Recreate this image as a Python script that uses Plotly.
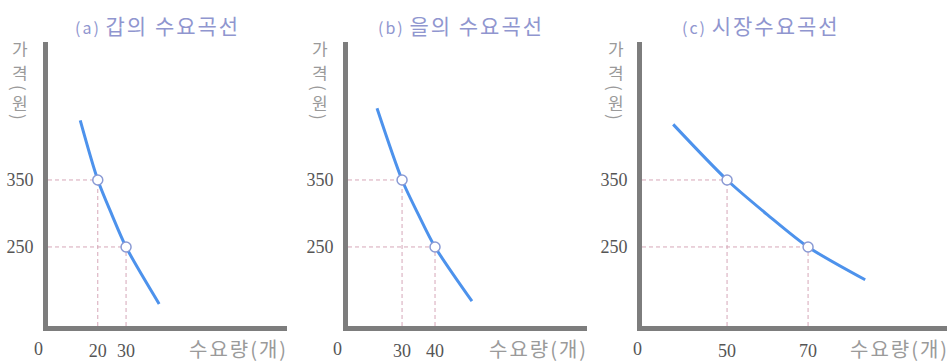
import plotly.graph_objects as go

# ---- data ----
titles = ["갑의 수요곡선", "을의 수요곡선", "시장수요곡선"]
title_tags = ["(a)", "(b)", "(c)"]
y_title_chars = ["가", "격", "(", "원", ")"]
x_title = "수요량(개)"

price_ticks = [250, 350]
qty_ticks_a = [20, 30]
qty_ticks_b = [30, 40]
qty_ticks_c = [50, 70]

# marked points (quantity, price)
pts_a_q = [20, 30]
pts_b_q = [30, 40]
pts_c_q = [50, 70]
pts_p = [350, 250]

# demand curves
curve_a_q = [13.8, 20, 25, 30, 41.7]
curve_a_p = [439, 350, 298, 250, 165]
curve_b_q = [22.4, 30, 35, 40, 51.2]
curve_b_p = [457, 350, 298, 250, 169]
curve_c_q = [36.7, 50, 60, 70, 84.1]
curve_c_p = [433, 350, 298, 250, 201]

W, H = 951, 362
x_ranges = [[2.4, 86.9], [13.6, 86.1], [29.0, 104.3]]
x_domains_px = [[48, 287], [348, 587], [642, 947]]
y_range = [132, 556]
y_dom = [1 - 326 / H, 1 - 42 / H]

curve_col = "#4d92ec"
axis_col = "#7d7d7d"
guide_col = "#d6a7b8"
tick_col = "#555555"
label_col = "#9a9a9a"
title_col = "#9096cf"

fig = go.Figure()

panels = [
    (curve_a_q, curve_a_p, pts_a_q, qty_ticks_a),
    (curve_b_q, curve_b_p, pts_b_q, qty_ticks_b),
    (curve_c_q, curve_c_p, pts_c_q, qty_ticks_c),
]

for i, (cq, cp, pq, qt) in enumerate(panels):
    xa = "x" if i == 0 else f"x{i+1}"
    ya = "y" if i == 0 else f"y{i+1}"
    x0 = x_ranges[i][0]
    y0 = y_range[0]
    # guides
    for q, p in zip(pq, pts_p):
        fig.add_trace(go.Scatter(x=[x0, q], y=[p, p], mode="lines", xaxis=xa, yaxis=ya,
                                 line=dict(color=guide_col, width=1, dash="4px,3px"),
                                 hoverinfo="skip", showlegend=False))
        fig.add_trace(go.Scatter(x=[q, q], y=[y0, p], mode="lines", xaxis=xa, yaxis=ya,
                                 line=dict(color=guide_col, width=1, dash="4px,3px"),
                                 hoverinfo="skip", showlegend=False))
    fig.add_trace(go.Scatter(x=cq, y=cp, mode="lines", xaxis=xa, yaxis=ya,
                             line=dict(color=curve_col, width=3, shape="spline", smoothing=0.8),
                             showlegend=False))
    fig.add_trace(go.Scatter(x=pq, y=pts_p, mode="markers", xaxis=xa, yaxis=ya,
                             marker=dict(size=10, color="white",
                                         line=dict(color="#8a9ad4", width=1.5)),
                             showlegend=False))

    xd = [x_domains_px[i][0] / W, x_domains_px[i][1] / W]
    xkey = "xaxis" if i == 0 else f"xaxis{i+1}"
    ykey = "yaxis" if i == 0 else f"yaxis{i+1}"
    fig.layout[xkey] = dict(domain=xd, range=x_ranges[i], anchor=ya,
                            showline=True, linecolor=axis_col, linewidth=5,
                            showgrid=False, zeroline=False, ticks="",
                            tickvals=qt, ticktext=[str(v) for v in qt],
                            tickfont=dict(family="Liberation Serif", size=18, color=tick_col),
                            ticklabelstandoff=4, fixedrange=True)
    fig.layout[ykey] = dict(domain=y_dom, range=y_range, anchor=xa,
                            showline=True, linecolor=axis_col, linewidth=5,
                            showgrid=False, zeroline=False, ticks="",
                            tickvals=price_ticks, ticktext=[str(v) for v in price_ticks],
                            tickfont=dict(family="Liberation Serif", size=18, color=tick_col),
                            ticklabelstandoff=6, fixedrange=True)

ann = []
title_cx = [157, 461, 761]
xlab_right = [289, 589, 950]
zero_x = [38, 337, 637]
ytitle_x = [20, 320, 616]
for i in range(3):
    ann.append(dict(x=title_cx[i] / W, y=1 - 25 / H, xref="paper", yref="paper",
                    text=(f"<span style='font-size:16px;letter-spacing:2px'>{title_tags[i]}</span> "
                          f"<span style='letter-spacing:2px'>{titles[i]}</span>"),
                    showarrow=False, xanchor="center", yanchor="middle",
                    font=dict(family="Noto Sans CJK KR", size=21, color=title_col)))
    ann.append(dict(x=xlab_right[i] / W, y=1 - 348 / H, xref="paper", yref="paper",
                    text=f"<span style='letter-spacing:2px'>{x_title}</span>",
                    showarrow=False, xanchor="right", yanchor="middle",
                    borderpad=0,
                    font=dict(family="Noto Sans CJK KR", size=20, color=label_col)))
    ann.append(dict(x=zero_x[i] / W, y=1 - 349 / H, xref="paper", yref="paper",
                    text="0", showarrow=False, xanchor="center", yanchor="middle",
                    font=dict(family="Liberation Serif", size=18, color=tick_col)))
    # vertical y-axis title: 가 / 격 / (원) stacked
    for ch, yy in zip(y_title_chars, [48, 72, 88, 102, 117]):
        is_paren = ch in "()"
        a = dict(x=ytitle_x[i] / W, y=1 - yy / H, xref="paper", yref="paper",
                 text=ch, showarrow=False, xanchor="center", yanchor="middle",
                 borderpad=0,
                 font=dict(family="Noto Sans CJK KR", size=17, color=label_col))
        if is_paren:
            a["textangle"] = 90
        else:
            a["height"] = 18
        ann.append(a)

fig.update_layout(width=W, height=H, margin=dict(l=0, r=0, t=0, b=0),
                  plot_bgcolor="white", paper_bgcolor="white", annotations=ann,
                  showlegend=False)

fig.write_html("out.html", config={"displayModeBar": False},
               post_script="document.body.style.margin='0';document.body.style.overflow='hidden';")
